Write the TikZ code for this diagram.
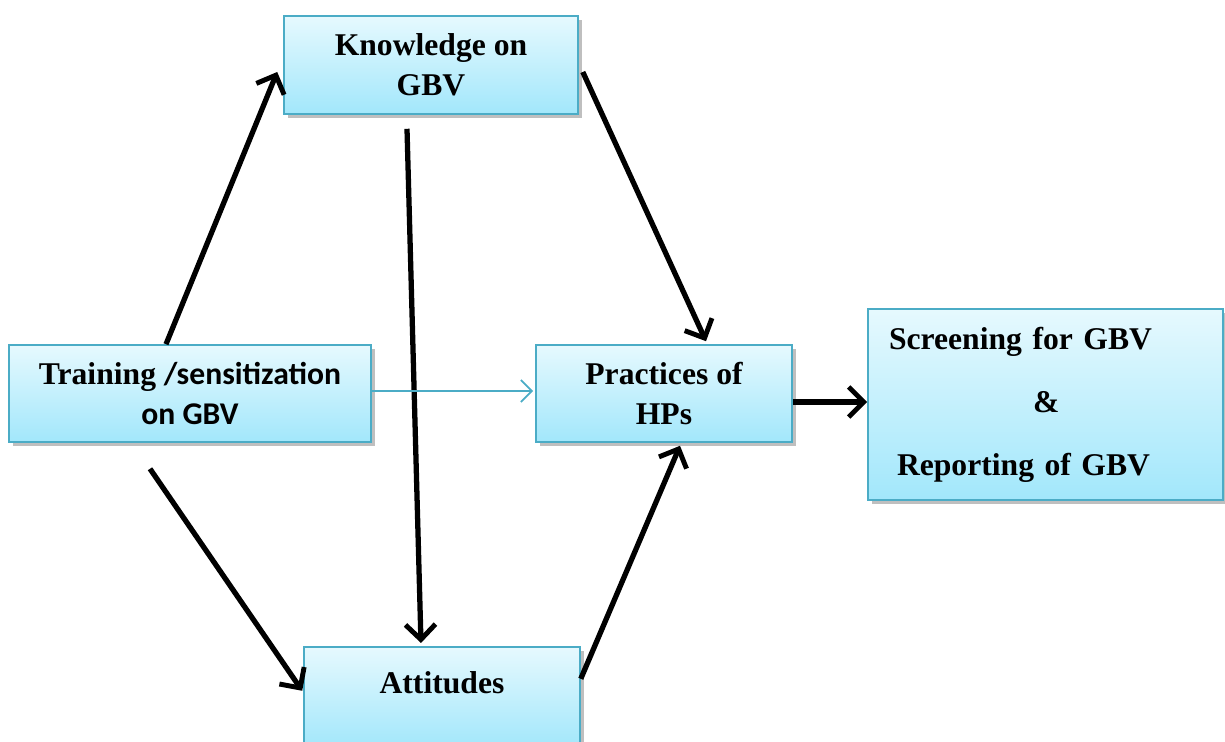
\documentclass[tikz,border=0pt]{standalone}
\usepackage{fontspec}
\setmainfont{Liberation Serif}
\newfontfamily\calibri{Carlito}
\usepackage{tikz}
\usetikzlibrary{arrows.meta,shadows}
\definecolor{boxline}{HTML}{4BACC6}
\definecolor{boxtop}{HTML}{E6F9FE}
\definecolor{boxbottom}{HTML}{A2E7FB}

\begin{document}
\begin{tikzpicture}[
  box/.style={draw=boxline, line width=0.9pt, top color=boxtop, bottom color=boxbottom, drop shadow={shadow xshift=0.07cm, shadow yshift=-0.08cm, fill=black, opacity=0.25}, align=center, font=\fontsize{18}{23}\selectfont\bfseries, inner sep=0pt},
  arrow/.style={-{Straight Barb[length=3mm,width=6mm,line width=2.8pt]}, line width=3pt, black},
  thinarrow/.style={-{Straight Barb[length=2.2mm,width=4.4mm]}, line width=1pt, boxline}
]
\useasboundingbox (0,0) rectangle (24.5,14.84);
\node[box, minimum width=5.88cm, minimum height=1.96cm] (know) at (8.62,13.54) {Knowledge on\\GBV};
\node[box, minimum width=7.24cm, minimum height=1.94cm, font=\fontsize{18}{22.5}\selectfont\bfseries] (train) at (3.8,6.97) {Training {\calibri /sensitization}\\{\calibri on GBV}};
\node[box, minimum width=5.12cm, minimum height=1.94cm] (prac) at (13.28,6.97) {Practices of\\HPs};
\node[box, minimum width=7.1cm, minimum height=3.82cm, text width=6.7cm, align=left] (screen) at (20.91,6.75) {\hspace*{0.22cm}Screening for GBV\\[0.45cm]\hspace*{3.1cm}\&\\[0.45cm]\hspace*{0.38cm}Reporting of GBV};
\node[box, minimum width=5.52cm, anchor=north, text height=0.93cm, text depth=1.09cm] (att) at (8.84,1.92) {Attitudes};
% connectors
\draw[arrow] ([xshift=-0.48cm]train.north) -- ([shift={(-0.12,-0.14)}]know.west);
\draw[arrow] ([shift={(-0.48,-0.28)}]know.south) -- ([shift={(-0.42,0.06)}]att.north);
\draw[arrow] ([shift={(0.08,-0.14)}]know.east) -- ([shift={(0.84,0.06)}]prac.north);
\draw[arrow] ([shift={(-0.8,-0.52)}]train.south) -- ([shift={(-0.02,0.13)}]att.west);
\draw[arrow] ([yshift=0.37cm]att.east) -- ([shift={(0.32,-0.06)}]prac.south);
\draw[arrow, line width=3.6pt] ([yshift=-0.17cm]prac.east) -- ([yshift=0.05cm]screen.west);
\draw[thinarrow] ([yshift=0.05cm]train.east) -- ([shift={(-0.04,0.05)}]prac.west);
\end{tikzpicture}
\end{document}
